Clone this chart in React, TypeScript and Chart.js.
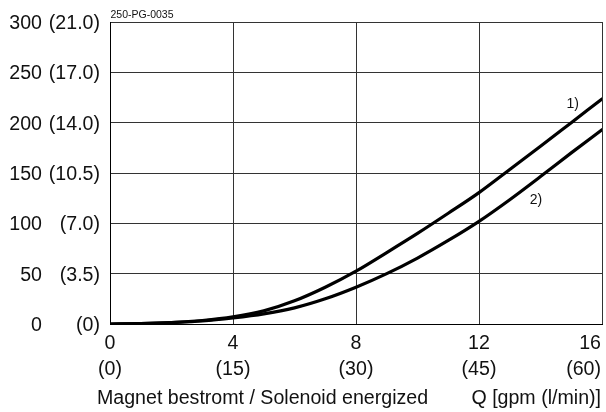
import React, { useEffect, useRef } from "react";
import { Chart, registerables } from "chart.js";

Chart.register(...registerables);

// Flow in gpm
const flowGpm = [0, 1, 2, 3, 4, 5, 6, 7, 8, 9, 10, 11, 12, 13, 14, 15, 16];
// Curve 1) pressure drop (psi)
const curve1Psi = [0, 0.5, 1.5, 3.5, 7, 13, 23, 36.5, 52.5, 71, 90, 110, 130.5, 153.5, 176.5, 200, 223.5];
// Curve 2) pressure drop (psi)
const curve2Psi = [0, 0.5, 1.5, 3, 6, 10, 16, 25, 36.5, 50, 65.5, 83, 102, 123.5, 146.5, 170, 193];

const xTicksGpm = [0, 4, 8, 12, 16];
const xTicksLpm = ["(0)", "(15)", "(30)", "(45)", "(60)"];
const yTicksPsi = [0, 50, 100, 150, 200, 250, 300];
const yTicksBar = ["(0)", "(3.5)", "(7.0)", "(10.5)", "(14.0)", "(17.0)", "(21.0)"];

const curveLabels = ["1)", "2)"];
const curveLabelQ = [15.05, 13.85];
const curveLabelP = [218, 123];

const FONT = '"Liberation Sans", Arial, sans-serif';

const labelsPlugin = {
  id: "customLabels",
  afterDraw(chart: any) {
    const ctx = chart.ctx;
    const xs = chart.scales.x;
    const ys = chart.scales.y;
    const area = chart.chartArea;
    ctx.save();
    ctx.fillStyle = "#111";
    ctx.font = `19.6px ${FONT}`;
    ctx.textBaseline = "alphabetic";
    // y tick labels: two columns
    yTicksPsi.forEach((v, i) => {
      const py = ys.getPixelForValue(v) + 7;
      ctx.textAlign = "right";
      ctx.fillText(String(v), 42, py);
      ctx.fillText(yTicksBar[i], 100, py);
    });
    // x tick labels: two rows
    ctx.textAlign = "left";
    xTicksGpm.forEach((v, i) => {
      const px = xs.getPixelForValue(v);
      const rows = [String(v), xTicksLpm[i]];
      const base = [area.bottom + 24.5, area.bottom + 51];
      rows.forEach((t, r) => {
        const w = ctx.measureText(t).width;
        let left = px - w / 2;
        if (left + w > chart.width - 5) left = chart.width - 5 - w;
        ctx.fillText(t, left, base[r]);
      });
    });
    // bottom captions
    ctx.textAlign = "left";
    ctx.fillText("Magnet bestromt / Solenoid energized", 97, 404);
    ctx.textAlign = "right";
    ctx.fillText("Q [gpm (l/min)]", 601, 404);
    // small id
    ctx.font = `10.5px ${FONT}`;
    ctx.textAlign = "left";
    ctx.fillText("250-PG-0035", area.left + 0.5, 17.5);
    // curve labels
    ctx.font = `14px ${FONT}`;
    ctx.textAlign = "center";
    ctx.textBaseline = "middle";
    curveLabels.forEach((t, i) => {
      ctx.fillText(t, xs.getPixelForValue(curveLabelQ[i]), ys.getPixelForValue(curveLabelP[i]));
    });
    ctx.restore();
  },
};

export default function App() {
  const ref = useRef<HTMLCanvasElement | null>(null);
  useEffect(() => {
    document.body.style.margin = "0";
    const canvas = ref.current!;
    const chart = new Chart(canvas, {
      type: "line",
      data: {
        datasets: [
          {
            label: "1)",
            data: flowGpm.map((q, i) => ({ x: q, y: curve1Psi[i] })),
            borderColor: "#000",
            borderWidth: 3.2,
            borderCapStyle: "round",
            pointRadius: 0,
            cubicInterpolationMode: "monotone",
            fill: false,
          },
          {
            label: "2)",
            data: flowGpm.map((q, i) => ({ x: q, y: curve2Psi[i] })),
            borderColor: "#000",
            borderWidth: 3.2,
            borderCapStyle: "round",
            pointRadius: 0,
            cubicInterpolationMode: "monotone",
            fill: false,
          },
        ],
      },
      options: {
        responsive: false,
        animation: false,
        devicePixelRatio: 1,
        layout: { padding: { top: 22, right: 4, left: 0, bottom: 0 } },
        plugins: { legend: { display: false }, tooltip: { enabled: false } },
        scales: {
          x: {
            type: "linear",
            min: 0,
            max: 16,
            afterBuildTicks: (s: any) => {
              s.ticks = xTicksGpm.map((v) => ({ value: v }));
            },
            afterFit: (s: any) => {
              s.height = 88;
            },
            ticks: { display: false },
            grid: { color: "#333", lineWidth: 1, drawTicks: false },
            border: { color: "#000", width: 1 },
          },
          y: {
            type: "linear",
            min: 0,
            max: 300,
            afterBuildTicks: (s: any) => {
              s.ticks = yTicksPsi.map((v) => ({ value: v }));
            },
            afterFit: (s: any) => {
              s.width = 110;
            },
            ticks: { display: false },
            grid: { color: "#333", lineWidth: 1, drawTicks: false },
            border: { color: "#000", width: 1 },
          },
        },
      },
      plugins: [labelsPlugin],
    } as any);
    return () => chart.destroy();
  }, []);
  return <canvas ref={ref} width={606} height={412} style={{ display: "block", width: 606, height: 412 }} />;
}
